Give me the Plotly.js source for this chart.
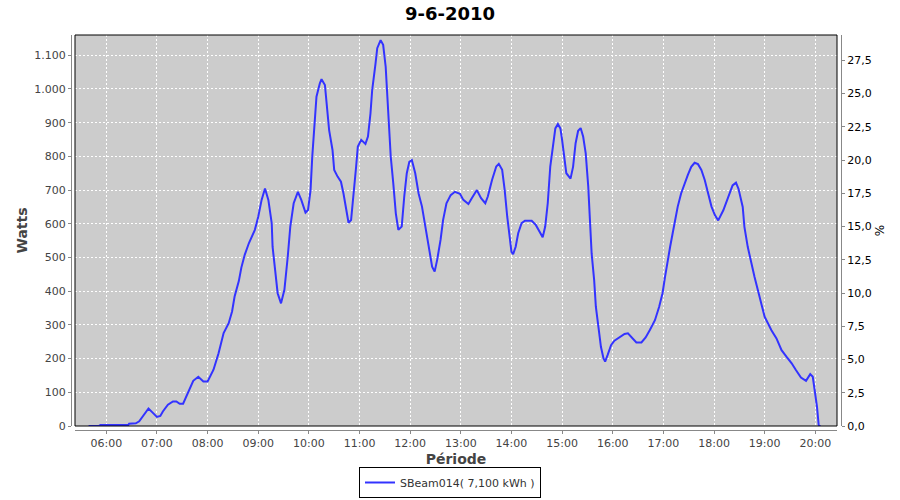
<!DOCTYPE html>
<html>
<head>
<meta charset="utf-8">
<script src="https://cdn.plot.ly/plotly-3.0.1.min.js"></script>
<style>html,body{margin:0;padding:0;background:#fff;}#chart{width:900px;height:500px;}</style>
</head>
<body>
<div id="chart"></div>
<script>
// ---- data ----
const chartTitle = "9-6-2010";
const day = "2010-06-09";
const seriesName = "SBeam014( 7,100 kWh )";
const times = [
 "05:39","05:51","05:53","06:10","06:11","06:20","06:21","06:26","06:27","06:35",
 "06:39","06:42","06:46","06:50","06:54","07:00","07:04","07:07","07:13","07:19",
 "07:23","07:27","07:31","07:34","07:39","07:43","07:49","07:55","08:00","08:07",
 "08:13","08:19","08:25","08:29","08:32","08:37","08:40","08:44","08:49","08:53",
 "08:56","09:00","09:04","09:08","09:12","09:16","09:17","09:20","09:23","09:27",
 "09:31","09:35","09:38","09:42","09:47","09:51","09:56","09:59","10:02","10:04",
 "10:07","10:09","10:13","10:15","10:19","10:21","10:24","10:28","10:30","10:34",
 "10:38","10:41","10:44","10:47","10:50","10:53","10:56","10:58","11:02","11:07",
 "11:10","11:13","11:15","11:19","11:21","11:25","11:28","11:31","11:34","11:37",
 "11:40","11:43","11:46","11:50","11:53","11:56","11:59","12:02","12:06","12:10",
 "12:14","12:18","12:22","12:26","12:29","12:32","12:36","12:39","12:43","12:48",
 "12:53","12:59","13:03","13:09","13:13","13:19","13:24","13:29","13:32","13:37",
 "13:42","13:45","13:49","13:52","13:55","13:58","14:00","14:02","14:05","14:08",
 "14:12","14:16","14:24","14:29","14:34","14:37","14:40","14:43","14:46","14:50",
 "14:52","14:55","14:58","15:00","15:03","15:05","15:10","15:13","15:16","15:19",
 "15:22","15:25","15:28","15:31","15:33","15:35","15:38","15:40","15:43","15:46",
 "15:49","15:51","15:54","15:58","16:02","16:08","16:14","16:18","16:22","16:28",
 "16:34","16:39","16:44","16:50","16:55","16:59","17:02","17:05","17:08","17:11",
 "17:14","17:17","17:21","17:25","17:29","17:33","17:37","17:41","17:45","17:49",
 "17:53","17:57","18:01","18:05","18:11","18:17","18:22","18:26","18:29","18:34",
 "18:36","18:40","18:44","18:48","18:52","18:56","19:00","19:04","19:08","19:14",
 "19:20","19:26","19:32","19:37","19:43","19:49","19:54","19:57","20:00","20:02",
 "20:04","20:06"
];
const watts = [
 0,0,3,3,1,1,3,3,7,8,
 14,24,38,52,42,27,30,43,63,73,
 73,66,66,83,113,134,146,132,132,167,
 216,276,305,340,384,430,470,508,543,567,
 582,621,671,705,671,601,532,463,394,364,
 404,503,592,661,695,671,633,641,700,799,
 898,977,1017,1029,1012,958,878,819,760,740,
 725,690,641,603,611,681,770,829,849,837,
 859,928,997,1076,1121,1145,1131,1066,928,799,
 720,631,582,592,681,750,784,789,750,690,
 651,592,522,473,458,493,552,611,661,685,
 695,689,671,659,676,700,676,661,681,730,
 770,778,760,700,621,562,517,510,532,572,
 602,609,609,596,572,560,592,661,770,839,
 883,896,883,849,789,750,734,769,839,876,
 884,858,809,710,611,512,433,354,295,235,
 201,191,211,240,253,262,273,275,265,248,
 248,263,285,314,354,394,443,492,532,572,
 611,651,690,720,745,769,781,777,760,730,
 690,651,626,610,640,684,714,722,704,650,
 591,531,482,442,403,363,324,304,284,260,
 225,205,186,166,144,134,154,146,97,57,
 3,0
];
const leftTitle = "Watts";
const rightTitle = "%";
const xTitle = "Période";

// ---- chart ----
const xs = times.map(t => day + " " + t);
const trace = {
  x: xs, y: watts, type: "scatter", mode: "lines", name: seriesName,
  line: {color: "rgb(51,51,255)", width: 2, shape: "linear"},
  xaxis: "x", yaxis: "y"
};
const dummy = {x: [], y: [], type: "scatter", mode: "lines", yaxis: "y2", xaxis: "x", showlegend: false, hoverinfo: "skip"};

const W = 900, H = 500, ml = 71, mr = 59, mt = 35, mb = 70;
const pw = W - ml - mr, ph = H - mt - mb;
const gap = 4;
const xd = [gap / pw, 1 - gap / pw];
const yd = [gap / ph, 1];

const tickFont = {family: "DejaVu Sans", size: 11, color: "#444"};
const titleFont = {family: "DejaVu Sans", size: 14, color: "#444", weight: "bold"};

const layout = {
  width: W, height: H,
  margin: {l: ml, r: mr, t: mt, b: mb, pad: 0},
  paper_bgcolor: "#fff", plot_bgcolor: "#cccccc",
  separators: ",.",
  showlegend: true,
  title: {text: chartTitle, x: 0.5, xref: "container", xanchor: "center", y: 1 - 14 / H, yref: "container", yanchor: "middle",
          font: {family: "DejaVu Sans", size: 18, color: "#000", weight: "bold"}},
  xaxis: {
    type: "date", domain: xd, anchor: "free", position: 0,
    range: [day + " 05:22:55", day + " 20:25:42"],
    tick0: day + " 06:00", dtick: 3600000, tickformat: "%H:%M",
    showgrid: true, gridcolor: "#fff", gridwidth: 1, griddash: "2px,2px",
    showline: true, linecolor: "#888", linewidth: 1,
    ticks: "outside", ticklen: 3, tickcolor: "#888", tickfont: tickFont,
    zeroline: false,
    title: {text: xTitle, font: titleFont, standoff: 4}
  },
  yaxis: {
    domain: yd, anchor: "free", position: 0, side: "left",
    range: [0, 1160.2], tick0: 0, dtick: 100, tickformat: ",d",
    showgrid: true, gridcolor: "#fff", gridwidth: 1, griddash: "2px,2px",
    showline: true, linecolor: "#888", linewidth: 1,
    ticks: "outside", ticklen: 3, tickcolor: "#888", tickfont: tickFont,
    zeroline: false,
    title: {text: leftTitle, font: titleFont, standoff: 2}
  },
  yaxis2: {
    overlaying: "y", anchor: "free", position: 1, side: "right",
    range: [0, 29.4], tick0: 0, dtick: 2.5, tickformat: ".1f",
    showgrid: false, showline: true, linecolor: "#888", linewidth: 1,
    ticks: "outside", ticklen: 3, tickcolor: "#888",
    tickfont: {family: "DejaVu Sans", size: 11, color: "#000"},
    zeroline: false,
    title: {text: rightTitle, font: {family: "DejaVu Sans", size: 12, color: "#000"}, standoff: 4}
  },
  shapes: [
    {type: "rect", xref: "paper", yref: "paper", x0: xd[0], x1: xd[1], y0: yd[0], y1: yd[1],
     line: {color: "#000", width: 1}, fillcolor: "rgba(0,0,0,0)", layer: "above"}
  ],
  legend: {
    orientation: "h", x: 0.5, xref: "container", xanchor: "center",
    y: 2 / H, yref: "container", yanchor: "bottom",
    bordercolor: "#000", borderwidth: 1, bgcolor: "#fff", itemwidth: 30,
    font: {family: "DejaVu Sans", size: 11, color: "#333"}
  }
};

Plotly.newPlot("chart", [trace, dummy], layout, {displayModeBar: false, staticPlot: true});
</script>
</body>
</html>
